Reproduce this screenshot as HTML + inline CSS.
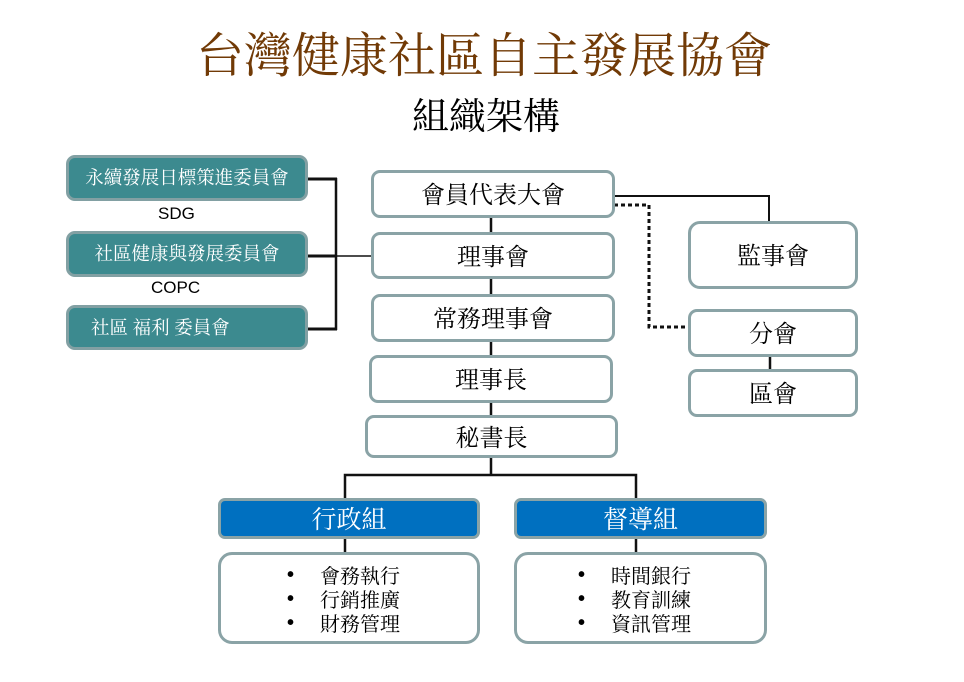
<!DOCTYPE html>
<html>
<head>
<meta charset="utf-8">
<style>
html,body{margin:0;padding:0;background:#fff;}
body{width:964px;height:682px;position:relative;overflow:hidden;font-family:"Liberation Serif","Noto Serif CJK SC",serif;}
.t{position:absolute;white-space:nowrap;}
.box{position:absolute;box-sizing:border-box;border:3px solid #8aa3a6;border-radius:9px;background:#fff;display:flex;align-items:center;justify-content:center;color:#000;font-size:24px;line-height:1;padding-top:4px;}
.teal{background:#3c8a8f;border-color:#82a0a3;color:#fff;font-size:18.5px;padding-top:3px;}
.blue{background:#0070c0;border-color:#8aa3a6;color:#fff;font-size:25px;border-radius:7px;padding-top:3px;}
.list{position:absolute;box-sizing:border-box;border:3px solid #8aa3a6;border-radius:14px;background:#fff;}
.li{position:absolute;font-size:20px;line-height:1;color:#000;}
.bul{position:absolute;font-size:20px;line-height:1;font-weight:bold;font-family:"Liberation Sans",sans-serif;}
svg{position:absolute;left:0;top:0;}
</style>
</head>
<body>
<div class="t" style="left:196px;top:33px;font-size:48px;line-height:1;color:#713a06;">台灣健康社區自主發展協會</div>
<div class="t" style="left:412px;top:99px;font-size:37px;line-height:1;color:#000;">組織架構</div>

<svg width="964" height="682">
  <line x1="491" y1="215" x2="491" y2="475" stroke="#111" stroke-width="2.5"/>
  <polyline points="614,196 769,196 769,222" fill="none" stroke="#111" stroke-width="2"/>
  <polyline points="614,205 649,205 649,327 690,327" fill="none" stroke="#111" stroke-width="3" stroke-dasharray="4,3"/>
  <line x1="770" y1="354" x2="770" y2="371" stroke="#111" stroke-width="2.5"/>
  <line x1="306" y1="179" x2="337" y2="179" stroke="#111" stroke-width="3"/>
  <line x1="306" y1="256" x2="337" y2="256" stroke="#111" stroke-width="3"/>
  <line x1="306" y1="329" x2="337" y2="329" stroke="#111" stroke-width="3"/>
  <line x1="336" y1="178" x2="336" y2="330" stroke="#111" stroke-width="2.5"/>
  <line x1="336" y1="256" x2="374" y2="256" stroke="#111" stroke-width="1.5"/>
  <polyline points="345,500 345,475 636,475 636,500" fill="none" stroke="#111" stroke-width="2.5"/>
  <line x1="345" y1="536" x2="345" y2="555" stroke="#111" stroke-width="2.5"/>
  <line x1="636" y1="536" x2="636" y2="555" stroke="#111" stroke-width="2.5"/>
</svg>

<div class="box teal" style="left:66px;top:155px;width:242px;height:46px;">永續發展日標策進委員會</div>
<div class="t" style="left:158px;top:205px;font-family:'Liberation Sans',sans-serif;font-size:17px;line-height:1;">SDG</div>
<div class="box teal" style="left:66px;top:231px;width:242px;height:46px;">社區健康與發展委員會</div>
<div class="t" style="left:151px;top:279px;font-family:'Liberation Sans',sans-serif;font-size:17px;line-height:1;">COPC</div>
<div class="box teal" style="left:66px;top:305px;width:242px;height:45px;justify-content:flex-start;padding-left:22px;">社區 福利 委員會</div>

<div class="box" style="left:371px;top:170px;width:244px;height:48px;">會員代表大會</div>
<div class="box" style="left:371px;top:232px;width:244px;height:47px;">理事會</div>
<div class="box" style="left:371px;top:294px;width:244px;height:48px;">常務理事會</div>
<div class="box" style="left:369px;top:355px;width:244px;height:48px;">理事長</div>
<div class="box" style="left:365px;top:415px;width:253px;height:43px;">秘書長</div>

<div class="box" style="left:688px;top:221px;width:170px;height:68px;border-radius:12px;">監事會</div>
<div class="box" style="left:688px;top:309px;width:170px;height:48px;">分會</div>
<div class="box" style="left:688px;top:369px;width:170px;height:48px;">區會</div>

<div class="box blue" style="left:218px;top:498px;width:262px;height:41px;">行政組</div>
<div class="box blue" style="left:514px;top:498px;width:253px;height:41px;">督導組</div>

<div class="list" style="left:218px;top:552px;width:262px;height:92px;"></div>
<div class="bul" style="left:287px;top:565px;">•</div>
<div class="bul" style="left:287px;top:589px;">•</div>
<div class="bul" style="left:287px;top:613px;">•</div>
<div class="li" style="left:320px;top:567px;">會務執行</div>
<div class="li" style="left:320px;top:591px;">行銷推廣</div>
<div class="li" style="left:320px;top:615px;">財務管理</div>

<div class="list" style="left:514px;top:552px;width:253px;height:92px;"></div>
<div class="bul" style="left:578px;top:565px;">•</div>
<div class="bul" style="left:578px;top:589px;">•</div>
<div class="bul" style="left:578px;top:613px;">•</div>
<div class="li" style="left:611px;top:567px;">時間銀行</div>
<div class="li" style="left:611px;top:591px;">教育訓練</div>
<div class="li" style="left:611px;top:615px;">資訊管理</div>
</body>
</html>
